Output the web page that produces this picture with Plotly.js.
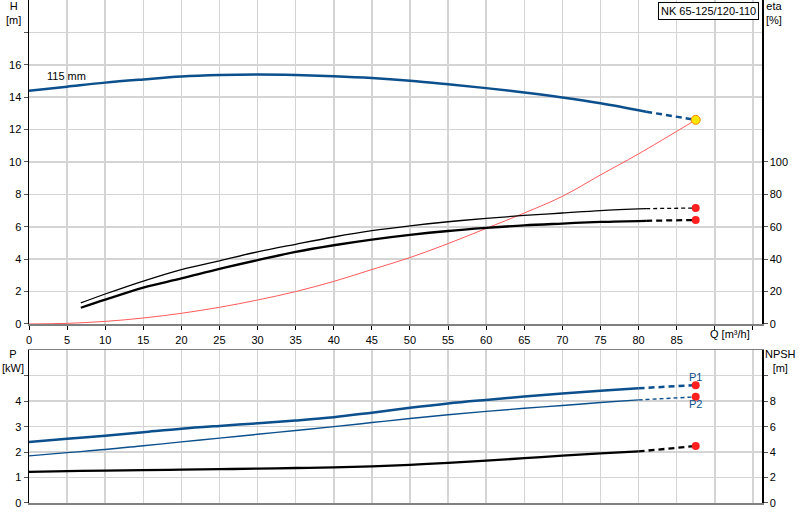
<!DOCTYPE html>
<html>
<head>
<meta charset="utf-8">
<script src="https://cdn.plot.ly/plotly-3.0.1.min.js"></script>
<style>
  body { margin: 0; background: #fff; }
  #chart { width: 800px; height: 520px; }
</style>
</head>
<body>
<div id="chart"></div>
<script>
// head curve (115 mm)
var qHead = [0, 5, 10, 15, 20, 25, 30, 35, 40, 45, 50, 55, 60, 65, 70, 75, 81];
var headVals = [14.4, 14.65, 14.9, 15.1, 15.28, 15.37, 15.4, 15.37, 15.3, 15.19, 15.02, 14.8, 14.56, 14.29, 13.98, 13.62, 13.1];
var qDuty = 87.5;
var headDuty = 12.6;

// system curve
var qSys = [0, 5, 10, 15, 20, 25, 30, 35, 40, 45, 50, 55, 60, 65, 70, 75, 80, 87.5];
var hSys = [0, 0.04, 0.16, 0.37, 0.66, 1.03, 1.48, 2.0, 2.63, 3.36, 4.1, 4.96, 5.9, 6.85, 7.88, 9.2, 10.5, 12.6];

// efficiency
var qEta = [6.8, 10, 15, 20, 25, 30, 35, 40, 45, 50, 55, 60, 65, 70, 75, 81];
var etaUpper = [13, 18.5, 26.5, 33.6, 39, 44.5, 49.2, 53.7, 57.6, 60.6, 63.1, 65.2, 67, 68.5, 70, 71.2];
var etaLower = [10, 15, 22.5, 28.1, 34, 39.4, 44.5, 48.6, 52.1, 55, 57.4, 59.3, 60.9, 62, 63, 63.7];
var etaUpperDuty = 71.6;
var etaLowerDuty = 64.2;

// power and NPSH
var qPow = [0, 5, 10, 15, 20, 25, 30, 35, 40, 45, 50, 55, 60, 65, 70, 75, 80];
var p1Vals = [2.4, 2.52, 2.64, 2.78, 2.92, 3.03, 3.13, 3.24, 3.37, 3.55, 3.74, 3.91, 4.05, 4.18, 4.3, 4.41, 4.51];
var p2Vals = [1.85, 1.98, 2.1, 2.25, 2.4, 2.55, 2.7, 2.85, 3.0, 3.16, 3.32, 3.47, 3.6, 3.72, 3.83, 3.95, 4.05];
var npshVals = [2.45, 2.5, 2.55, 2.58, 2.62, 2.66, 2.7, 2.75, 2.8, 2.88, 3.0, 3.15, 3.33, 3.52, 3.72, 3.9, 4.05];
var p1Duty = 4.63;
var p2Duty = 4.17;
var npshDuty = 4.48;

// ticks
var qTicks = [0, 5, 10, 15, 20, 25, 30, 35, 40, 45, 50, 55, 60, 65, 70, 75, 80, 85, 90, 95];
var qTickText = ['0', '5', '10', '15', '20', '25', '30', '35', '40', '45', '50', '55', '60', '65', '70', '75', '80', '85', '', ''];
var hTicks = [0, 2, 4, 6, 8, 10, 12, 14, 16, 18];
var hTickText = ['0', '2', '4', '6', '8', '10', '12', '14', '16', ''];
var etaTicks = [0, 20, 40, 60, 80, 100];
var pTicks = [0, 1, 2, 3, 4, 5];
var pTickText = ['0', '1', '2', '3', '4', ''];
var npshTicks = [0, 2, 4, 6, 8, 10];
var npshTickText = ['0', '2', '4', '6', '8', ''];

var blue = '#0b4f8c';
var red = '#ff1f1f';

function last(a) { return a[a.length - 1]; }
function curve(x, y, color, width, xa, ya) {
  return { x: x, y: y, mode: 'lines', line: { color: color, width: width, shape: 'spline', smoothing: 1 }, xaxis: xa, yaxis: ya };
}
function dashed(x, y, color, width, dash, xa, ya) {
  return { x: x, y: y, mode: 'lines', line: { color: color, width: width, dash: dash }, xaxis: xa, yaxis: ya };
}

var traces = [
  // head
  curve(qHead, headVals, blue, 2.5, 'x', 'y'),
  dashed([last(qHead), qDuty], [last(headVals), headDuty], blue, 2.5, '6px,4px', 'x', 'y'),
  // system
  curve(qSys, hSys, '#ff5a5a', 1, 'x', 'y'),
  { x: [qDuty], y: [headDuty], mode: 'markers', marker: { color: '#ffe600', size: 9, line: { color: '#ff8a00', width: 1 } }, xaxis: 'x', yaxis: 'y' },
  // eta
  curve(qEta, etaUpper, '#000', 1.3, 'x', 'y2'),
  dashed([last(qEta), qDuty], [last(etaUpper), etaUpperDuty], '#000', 1.3, '4px,3px', 'x', 'y2'),
  curve(qEta, etaLower, '#000', 2.3, 'x', 'y2'),
  dashed([last(qEta), qDuty], [last(etaLower), etaLowerDuty], '#000', 2.3, '6px,4px', 'x', 'y2'),
  { x: [qDuty, qDuty], y: [etaUpperDuty, etaLowerDuty], mode: 'markers', marker: { color: red, size: 8 }, xaxis: 'x', yaxis: 'y2' },
  // power
  curve(qPow, p1Vals, blue, 2.5, 'x2', 'y3'),
  dashed([last(qPow), qDuty], [last(p1Vals), p1Duty], blue, 2.5, '6px,4px', 'x2', 'y3'),
  curve(qPow, p2Vals, blue, 1.4, 'x2', 'y3'),
  dashed([last(qPow), qDuty], [last(p2Vals), p2Duty], blue, 1.4, '4px,3px', 'x2', 'y3'),
  { x: [qDuty, qDuty], y: [p1Duty, p2Duty], mode: 'markers', marker: { color: red, size: 8 }, xaxis: 'x2', yaxis: 'y3' },
  // npsh
  curve(qPow, npshVals, '#000', 2.3, 'x2', 'y4'),
  dashed([last(qPow), qDuty], [last(npshVals), npshDuty], '#000', 2.3, '6px,4px', 'x2', 'y4'),
  { x: [qDuty], y: [npshDuty], mode: 'markers', marker: { color: red, size: 8 }, xaxis: 'x2', yaxis: 'y4' }
];

var grid = '#d4d4d4';
var font = { family: 'Liberation Sans, Arial, sans-serif', size: 11, color: '#000' };

var layout = {
  width: 800,
  height: 520,
  margin: { l: 29, r: 38, t: 0, b: 17 },
  paper_bgcolor: '#fff',
  plot_bgcolor: '#fff',
  showlegend: false,
  hovermode: false,
  font: font,
  xaxis: {
    domain: [0, 1], range: [0, 96.2], anchor: 'y',
    tickmode: 'array', tickvals: qTicks, ticktext: qTickText,
    showgrid: true, gridcolor: grid, gridwidth: 1.5, zeroline: false,
    showline: true, linecolor: '#808080', linewidth: 2.5,
    ticks: 'outside', ticklen: 4, tickcolor: '#000'
  },
  yaxis: {
    domain: [0.3559, 1], range: [0, 20],
    tickmode: 'array', tickvals: hTicks, ticktext: hTickText,
    showgrid: true, gridcolor: grid, gridwidth: 1.5, zeroline: false,
    showline: true, linecolor: '#000', linewidth: 1.5,
    ticks: 'outside', ticklen: 4, tickcolor: '#555'
  },
  yaxis2: {
    overlaying: 'y', side: 'right', range: [0, 200],
    tickmode: 'array', tickvals: etaTicks,
    showgrid: false, zeroline: false,
    showline: true, linecolor: '#000', linewidth: 1.5,
    ticks: 'outside', ticklen: 4, tickcolor: '#555'
  },
  xaxis2: {
    domain: [0, 1], range: [0, 96.2], anchor: 'y3',
    tickmode: 'array', tickvals: qTicks, showticklabels: false,
    showgrid: true, gridcolor: grid, gridwidth: 1.5, zeroline: false,
    showline: true, mirror: true, linecolor: '#808080', linewidth: 1.5,
    ticks: ''
  },
  yaxis3: {
    domain: [0, 0.3036], range: [0, 6], anchor: 'x2',
    tickmode: 'array', tickvals: pTicks, ticktext: pTickText,
    showgrid: true, gridcolor: grid, gridwidth: 1.5, zeroline: false,
    showline: true, linecolor: '#000', linewidth: 1.5,
    ticks: 'outside', ticklen: 4, tickcolor: '#555'
  },
  yaxis4: {
    overlaying: 'y3', side: 'right', range: [0, 12], anchor: 'x2',
    tickmode: 'array', tickvals: npshTicks, ticktext: npshTickText,
    showgrid: false, zeroline: false,
    showline: true, linecolor: '#000', linewidth: 1.5,
    ticks: 'outside', ticklen: 4, tickcolor: '#555'
  },
  annotations: [
    { text: 'NK 65-125/120-110', xref: 'paper', yref: 'paper', x: 0.996, y: 0.997, xanchor: 'right', yanchor: 'top',
      showarrow: false, bgcolor: '#fff', bordercolor: '#000', borderwidth: 1, borderpad: 2, font: font },
    { text: 'H<br>[m]', xref: 'paper', yref: 'paper', x: -0.021, y: 0.975, xanchor: 'center', yanchor: 'middle', showarrow: false, font: font },
    { text: 'eta<br>[%]', xref: 'paper', yref: 'paper', x: 1.017, y: 0.975, xanchor: 'center', yanchor: 'middle', showarrow: false, font: font },
    { text: 'P<br>[kW]', xref: 'paper', yref: 'paper', x: -0.022, y: 0.282, xanchor: 'center', yanchor: 'middle', showarrow: false, font: font },
    { text: 'NPSH<br>[m]', xref: 'paper', yref: 'paper', x: 1.025, y: 0.282, xanchor: 'center', yanchor: 'middle', showarrow: false, font: font },
    { text: 'Q [m³/h]', xref: 'paper', yref: 'paper', x: 0.957, y: 0.336, xanchor: 'center', yanchor: 'middle', showarrow: false, font: font },
    { text: '115 mm', xref: 'x', yref: 'y', x: 4.9, y: 15.3, xanchor: 'center', yanchor: 'middle', showarrow: false, font: font },
    { text: 'P1', xref: 'x2', yref: 'y3', x: qDuty, y: 4.97, xanchor: 'center', yanchor: 'middle', showarrow: false, font: { family: font.family, size: 11, color: blue } },
    { text: 'P2', xref: 'x2', yref: 'y3', x: qDuty, y: 3.88, xanchor: 'center', yanchor: 'middle', showarrow: false, font: { family: font.family, size: 11, color: blue } }
  ]
};

Plotly.newPlot('chart', traces, layout, { displayModeBar: false, staticPlot: true });
</script>
</body>
</html>
